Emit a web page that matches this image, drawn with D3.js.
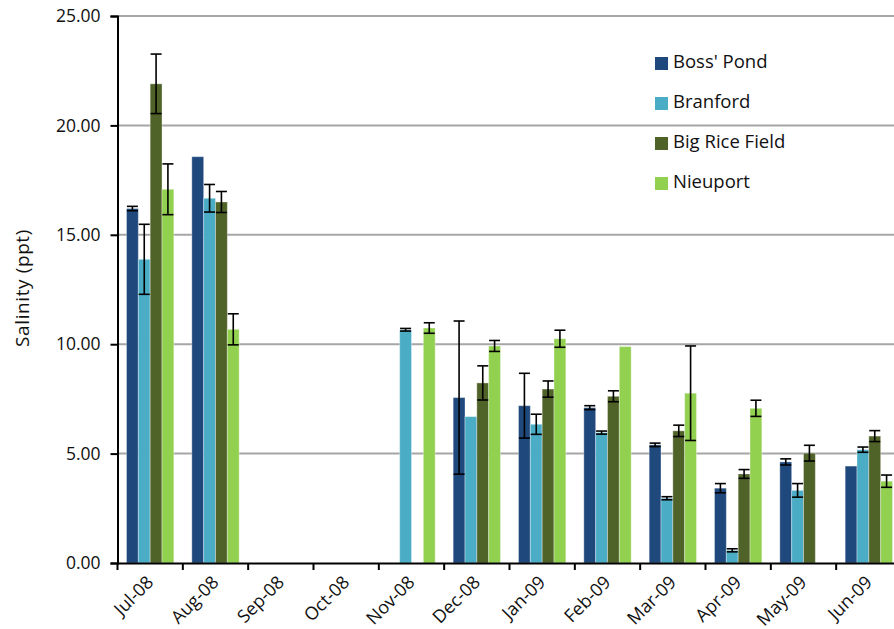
<!DOCTYPE html>
<html>
<head>
<meta charset="utf-8">
<script src="https://cdn.jsdelivr.net/npm/d3@7"></script>
<style>
  html, body { margin: 0; padding: 0; background: #fff; }
  svg { display: block; font-family: "Open Sans", "Liberation Sans", sans-serif; }
</style>
</head>
<body>
<svg id="chart" width="894" height="629"></svg>
<script>
// Monthly salinity means (ppt) with standard-error bars for four sites
const months = ["Jul-08", "Aug-08", "Sep-08", "Oct-08", "Nov-08", "Dec-08",
                "Jan-09", "Feb-09", "Mar-09", "Apr-09", "May-09", "Jun-09"];
const sites = ["Boss' Pond", "Branford", "Big Rice Field", "Nieuport"];

const bossPond     = [16.2, 18.57, null, null, null, 7.56, 7.19, 7.10, 5.40, 3.42, 4.62, 4.43];
const branford     = [13.88, 16.67, null, null, 10.66, 6.69, 6.34, 5.96, 2.96, 0.58, 3.32, 5.18];
const bigRiceField = [21.9, 16.5, null, null, null, 8.23, 7.95, 7.62, 6.04, 4.07, 5.02, 5.80];
const nieuport     = [17.08, 10.68, null, null, 10.74, 9.92, 10.25, 9.89, 7.76, 7.07, null, 3.74];

const bossPondErr     = [0.1, 0, null, null, null, 3.5, 1.48, 0.09, 0.08, 0.21, 0.14, 0];
const branfordErr     = [1.6, 0.63, null, null, 0.06, 0, 0.46, 0.07, 0.07, 0.07, 0.31, 0.12];
const bigRiceFieldErr = [1.36, 0.48, null, null, null, 0.78, 0.37, 0.25, 0.26, 0.2, 0.36, 0.25];
const nieuportErr     = [1.16, 0.71, null, null, 0.24, 0.25, 0.39, 0, 2.16, 0.37, null, 0.28];

const yTicks = [0, 5, 10, 15, 20, 25];
const colors = ["#1F497D", "#4BACC6", "#4F6228", "#92D050"];

const seriesValues = [bossPond, branford, bigRiceField, nieuport];
const seriesErrors = [bossPondErr, branfordErr, bigRiceFieldErr, nieuportErr];

const rows = [];
months.forEach((m, i) => {
  sites.forEach((s, j) => {
    const v = seriesValues[j][i];
    if (v !== null) rows.push({ month: m, site: s, value: v, err: seriesErrors[j][i], idx: j });
  });
});

const svg = d3.select("#chart");
const plotLeft = 117.5, plotTop = 16, plotBottom = 563;
const plotRight = plotLeft + 784; // the plot runs past the right edge of the frame
const textColor = "#111";

const x0 = d3.scaleBand().domain(months).range([plotLeft, plotRight]).paddingInner(0).paddingOuter(0);
const x1 = d3.scaleBand().domain(sites).range([0, x0.bandwidth()]).paddingInner(0).paddingOuter(0.76);
const y = d3.scaleLinear().domain([0, 25]).range([plotBottom, plotTop]);

// horizontal gridlines
svg.append("g")
  .selectAll("line")
  .data(yTicks.filter(d => d > 0))
  .join("line")
  .attr("x1", plotLeft).attr("x2", plotRight)
  .attr("y1", d => y(d)).attr("y2", d => y(d))
  .attr("stroke", "#A6A6A6").attr("stroke-width", 2);

// bars
svg.append("g")
  .selectAll("rect")
  .data(rows)
  .join("rect")
  .attr("x", d => x0(d.month) + x1(d.site))
  .attr("y", d => y(d.value))
  .attr("width", x1.bandwidth())
  .attr("height", d => y(0) - y(d.value))
  .attr("fill", d => colors[d.idx])
  .attr("stroke", "rgba(255,255,255,0.35)")
  .attr("stroke-width", 1);

// error bars
const eb = svg.append("g").attr("stroke", "#000").attr("stroke-width", 1.6);
rows.filter(d => d.err > 0).forEach(d => {
  const cx = x0(d.month) + x1(d.site) + x1.bandwidth() / 2;
  const y1 = y(d.value + d.err), y2 = y(d.value - d.err);
  eb.append("line").attr("x1", cx).attr("x2", cx).attr("y1", y1).attr("y2", y2);
  eb.append("line").attr("x1", cx - 5.5).attr("x2", cx + 5.5).attr("y1", y1).attr("y2", y1);
  eb.append("line").attr("x1", cx - 5.5).attr("x2", cx + 5.5).attr("y1", y2).attr("y2", y2);
});

// y axis
const yAxis = svg.append("g")
  .attr("transform", `translate(${plotLeft},0)`)
  .call(d3.axisLeft(y).tickValues(yTicks).tickFormat(d3.format(".2f")).tickSizeOuter(0).tickSize(7).tickPadding(10));
yAxis.select(".domain").attr("stroke", "#000").attr("stroke-width", 2);
yAxis.selectAll(".tick line").attr("stroke", "#000").attr("stroke-width", 2);
yAxis.selectAll("text").attr("font-size", 17.5).attr("fill", textColor).attr("font-family", "Open Sans");

// x axis
const xAxis = svg.append("g")
  .attr("transform", `translate(0,${plotBottom})`)
  .call(d3.axisBottom(x0).tickSize(0).tickFormat(""));
xAxis.select(".domain").attr("stroke", "#000").attr("stroke-width", 2);
xAxis.selectAll(".tick").remove();

// category boundary ticks
svg.append("g")
  .selectAll("line")
  .data(months)
  .join("line")
  .attr("x1", d => x0(d)).attr("x2", d => x0(d))
  .attr("y1", plotBottom).attr("y2", plotBottom + 7)
  .attr("stroke", "#000").attr("stroke-width", 2);

// rotated month labels
svg.append("g")
  .selectAll("text")
  .data(months)
  .join("text")
  .attr("transform", d => `translate(${x0(d) + x0.bandwidth() / 2 + 1},${plotBottom + 17}) rotate(-45)`)
  .attr("text-anchor", "end")
  .attr("dominant-baseline", "middle")
  .attr("font-size", 18)
  .attr("fill", textColor)
  .text(d => d);

// y axis title
svg.append("text")
  .attr("transform", `translate(24,288) rotate(-90)`)
  .attr("text-anchor", "middle")
  .attr("dominant-baseline", "middle")
  .attr("font-size", 19)
  .attr("letter-spacing", 0.6)
  .attr("fill", textColor)
  .text("Salinity (ppt)");

// legend
const legend = svg.append("g")
  .selectAll("g")
  .data(sites)
  .join("g")
  .attr("transform", (d, i) => `translate(655,${63.5 + i * 40})`);
legend.append("rect")
  .attr("x", 0).attr("y", -6.5).attr("width", 13).attr("height", 13)
  .attr("fill", (d, i) => colors[i]);
legend.append("text")
  .attr("x", 18).attr("y", 0)
  .attr("dominant-baseline", "middle")
  .attr("font-size", 18.5)
  .attr("fill", textColor)
  .text(d => d);
</script>
</body>
</html>
